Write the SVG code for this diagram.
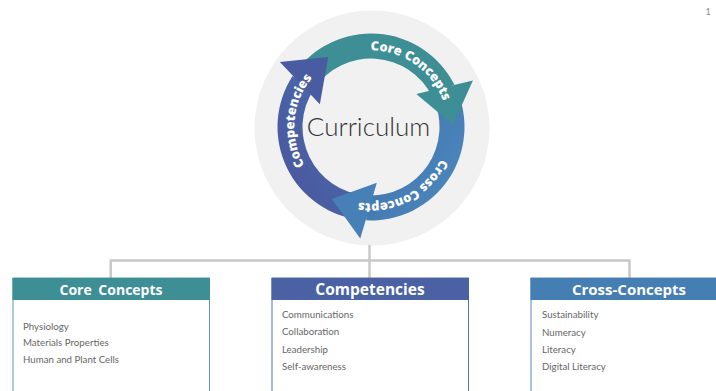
<svg xmlns="http://www.w3.org/2000/svg" width="716" height="391" viewBox="0 0 716 391">
<defs>
<style>
.hdr{font-family:"Open Sans","Noto Sans",sans-serif;font-weight:700;fill:#fff;text-anchor:middle}
.item{font-family:Lato,"Liberation Sans",sans-serif;font-size:9.7px;fill:#666}
.arc-t{font-family:"Open Sans","Noto Sans",sans-serif;font-weight:800;font-size:12.8px;fill:#fff;text-anchor:middle}
.conn{stroke:#c8c8c8;stroke-width:2.5;fill:none}
</style>
<linearGradient id="gCross" x1="0" y1="0" x2="0" y2="1"><stop offset="0" stop-color="#4984ba"/><stop offset="1" stop-color="#4479b1"/></linearGradient>
<linearGradient id="gComp" x1="0" y1="0" x2="0" y2="1"><stop offset="0" stop-color="#4b5aa0"/><stop offset="1" stop-color="#4966a9"/></linearGradient>
<path id="tpCore" d="M309.11,82.03 A76.5,76.5 0 0 1 434.42,169.78"/>
<path id="tpCross" d="M439.16,92.27 A76.5,76.5 0 0 1 304.09,164.09"/>
<path id="tpComp" d="M363.0,203.08 A76.5,76.5 0 0 1 376.34,50.68"/>
<path id="ring" d="M294.4,73.4 A93.5,93.5 0 0 1 454.3,84.55 L432.03,95.9 A68.5,68.5 0 0 0 314.89,87.71 Z"/>
<polygon id="head" points="452.97,124.85 416.3,94.1 472.9,80.6"/>
</defs>

<circle cx="372" cy="128" r="117.5" fill="#f1f1f1"/>

<g id="cycle">
<use href="#ring" fill="#3e8e96"/>
<use href="#ring" fill="url(#gCross)" transform="rotate(120 371 127)"/>
<use href="#ring" fill="url(#gComp)" transform="rotate(240 371 127)"/>
<use href="#head" fill="#3e8e96"/>
<use href="#head" fill="#4680b6" transform="rotate(120 371 127)"/>
<use href="#head" fill="#4a5ca1" transform="rotate(240 371 127)"/>
<text class="arc-t"><textPath href="#tpCore" startOffset="50%">Core Concepts</textPath></text>
<text class="arc-t"><textPath href="#tpCross" startOffset="50%">Cross Concepts</textPath></text>
<text class="arc-t"><textPath href="#tpComp" startOffset="50%">Competencies</textPath></text>
</g>

<g id="curriculum">
<text x="368.5" y="135.5" font-family="Lato,'Liberation Sans',sans-serif" font-weight="300" font-size="26" fill="#333" text-anchor="middle">Curriculum</text>
</g>

<g id="connectors">
<path class="conn" d="M369.5,245 V278"/>
<path class="conn" d="M110.7,278 V260.5 H629.5 V278"/>
</g>

<g id="core">
<rect x="13" y="278" width="196.5" height="130" fill="#fff" stroke="#5a9ca3" stroke-width="1"/>
<rect x="12.5" y="278" width="197.5" height="22" fill="#3e8e96"/>
<text class="hdr" x="111" y="294.5" font-size="14" word-spacing="3">Core Concepts</text>
<text class="item" x="23" y="329.5">Physiology</text>
<text class="item" x="23" y="346">Materials Properties</text>
<text class="item" x="23" y="362.5">Human and Plant Cells</text>
</g>

<g id="competencies">
<rect x="272" y="278" width="196.5" height="130" fill="#fff" stroke="#5a70ad" stroke-width="1"/>
<rect x="271.5" y="278" width="197.5" height="22" fill="#4a62a4"/>
<text class="hdr" x="370" y="294.5" font-size="15.5">Competencies</text>
<text class="item" x="282" y="317.5">Communications</text>
<text class="item" x="282" y="334.5">Collaboration</text>
<text class="item" x="282" y="352.5">Leadership</text>
<text class="item" x="282" y="370">Self-awareness</text>
</g>

<g id="cross-concepts">
<rect x="531" y="278" width="196.5" height="130" fill="#fff" stroke="#5a8cbc" stroke-width="1"/>
<rect x="530.5" y="278" width="197.5" height="22" fill="#457eb3"/>
<text class="hdr" x="629" y="294.5" font-size="15">Cross-Concepts</text>
<text class="item" x="542" y="317.5">Sustainability</text>
<text class="item" x="542" y="336">Numeracy</text>
<text class="item" x="542" y="352.5">Literacy</text>
<text class="item" x="542" y="370">Digital Literacy</text>
</g>

<text x="708" y="15" font-family="Lato,'Liberation Sans',sans-serif" font-size="9" fill="#888" text-anchor="middle">1</text>
</svg>
